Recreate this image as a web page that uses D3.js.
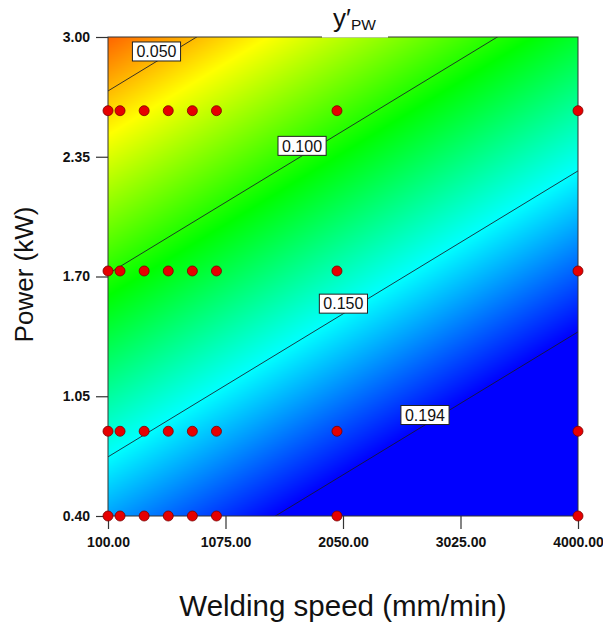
<!DOCTYPE html>
<html>
<head>
<meta charset="utf-8">
<script src="https://cdn.jsdelivr.net/npm/d3@7"></script>
<style>
  html, body { margin: 0; padding: 0; background: #fff; }
  svg { display: block; }
  text { font-family: "Liberation Sans", Arial, sans-serif; fill: #111; }
</style>
</head>
<body>
<script>
// Axis ticks
const speedTicks = [100, 1075, 2050, 3025, 4000];
const powerTicks = [0.40, 1.05, 1.70, 2.35, 3.00];

// Design points (full factorial of run settings)
const runSpeeds = [100, 200, 400, 600, 800, 1000, 2000, 4000];
const runPowers = [0.40, 0.86, 1.73, 2.60];

// Fitted linear model  y'PW = b0 + bS*speed + bP*power
const b0 = 0.1843;
const bS = 2.004e-5;
const bP = -0.05035;

// Contour levels and where along the speed axis each label sits
const contourLevels = [0.050, 0.100, 0.150, 0.194];
const labelSpeeds = [502, 1710, 2053, 2730];

// Colour ramp of the response surface
const rampLevels = [0.018, 0.062, 0.106, 0.150, 0.194];
const rampColours = ["#ff0000", "#ffff00", "#00ff00", "#00ffff", "#0000ff"];

const W = 603, H = 633;
const plotL = 108, plotR = 578, plotT = 37, plotB = 516;

const x = d3.scaleLinear().domain([100, 4000]).range([plotL, plotR]);
const y = d3.scaleLinear().domain([0.40, 3.00]).range([plotB, plotT]);
const colour = d3.scaleLinear().domain(rampLevels).range(rampColours)
  .interpolate(d3.interpolateRgb).clamp(true);

const model = (s, p) => b0 + bS * s + bP * p;
const powerOnLevel = (lvl, s) => (lvl - b0 - bS * s) / bP;

const svg = d3.select("body").append("svg").attr("width", W).attr("height", H);

// Response surface raster
const pw = plotR - plotL, ph = plotB - plotT;
const canvas = document.createElement("canvas");
canvas.width = pw; canvas.height = ph;
const ctx = canvas.getContext("2d");
const img = ctx.createImageData(pw, ph);
for (let j = 0; j < ph; j++) {
  const p = y.invert(plotT + j + 0.5);
  for (let i = 0; i < pw; i++) {
    const s = x.invert(plotL + i + 0.5);
    const c = d3.rgb(colour(model(s, p)));
    const k = (j * pw + i) * 4;
    img.data[k] = c.r; img.data[k + 1] = c.g; img.data[k + 2] = c.b; img.data[k + 3] = 255;
  }
}
ctx.putImageData(img, 0, 0);
svg.append("image")
  .attr("x", plotL).attr("y", plotT).attr("width", pw).attr("height", ph)
  .attr("preserveAspectRatio", "none")
  .attr("href", canvas.toDataURL());

svg.append("clipPath").attr("id", "plot-clip")
  .append("rect").attr("x", plotL).attr("y", plotT).attr("width", pw).attr("height", ph);

// Contour lines
const contourG = svg.append("g").attr("clip-path", "url(#plot-clip)");
contourG.selectAll("line").data(contourLevels).join("line")
  .attr("x1", x(100)).attr("y1", d => y(powerOnLevel(d, 100)))
  .attr("x2", x(4000)).attr("y2", d => y(powerOnLevel(d, 4000)))
  .attr("stroke", "#1a1a2a").attr("stroke-width", 1).attr("stroke-opacity", 0.85);

// Frame
svg.append("rect").attr("x", plotL).attr("y", plotT).attr("width", pw).attr("height", ph)
  .attr("fill", "none").attr("stroke", "#333").attr("stroke-width", 1);

// Axes
const xAxis = d3.axisBottom(x).tickValues(speedTicks).tickFormat(d3.format(".2f"))
  .tickSize(13).tickSizeOuter(0).tickPadding(8);
const yAxis = d3.axisLeft(y).tickValues(powerTicks).tickFormat(d3.format(".2f"))
  .tickSize(12).tickSizeOuter(0).tickPadding(6);

const gx = svg.append("g").attr("transform", `translate(0,${plotB})`).call(xAxis);
const gy = svg.append("g").attr("transform", `translate(${plotL},0)`).call(yAxis);
[gx, gy].forEach(g => {
  g.select(".domain").remove();
  g.selectAll(".tick line").attr("stroke", "#333").attr("stroke-width", 1.2);
  g.selectAll(".tick text").attr("font-size", 14).attr("font-weight", "bold")
    .attr("fill", "#111").attr("font-family", "Liberation Sans, Arial, sans-serif");
});

// Contour labels
const labelG = svg.append("g");
contourLevels.forEach((lvl, i) => {
  const cx = x(labelSpeeds[i]);
  const cy = y(powerOnLevel(lvl, labelSpeeds[i])) - 10;
  const g = labelG.append("g").attr("transform", `translate(${cx},${cy})`);
  const t = g.append("text").text(d3.format(".3f")(lvl))
    .attr("text-anchor", "middle").attr("dy", "0.36em").attr("font-size", 16);
  const bb = t.node().getBBox();
  g.insert("rect", "text")
    .attr("x", bb.x - 4).attr("y", -9.5).attr("width", bb.width + 8).attr("height", 19)
    .attr("fill", "#fff").attr("stroke", "#222").attr("stroke-width", 1);
});

// Design points
const runs = runPowers.flatMap(p => runSpeeds.map(s => ({ s, p })));
svg.append("g").selectAll("circle").data(runs).join("circle")
  .attr("cx", d => x(d.s)).attr("cy", d => y(d.p)).attr("r", 5)
  .attr("fill", "#e60000").attr("stroke", "#7a0000").attr("stroke-width", 0.8);

// Title with a white backing over the frame
svg.append("rect").attr("x", 322).attr("y", 8).attr("width", 66).attr("height", 29.5).attr("fill", "#fff");
const title = svg.append("text").attr("x", 333).attr("y", 26.5).attr("font-size", 26);
title.append("tspan").text("y′");
title.append("tspan").attr("font-size", 15.5).attr("dy", 3).text("PW");

// Axis titles
svg.append("text").attr("x", (plotL + plotR) / 2).attr("y", 616)
  .attr("text-anchor", "middle").attr("font-size", 29.5)
  .text("Welding speed (mm/min)");
svg.append("text").attr("transform", `translate(33,${(plotT + plotB) / 2 - 2}) rotate(-90)`)
  .attr("text-anchor", "middle").attr("font-size", 26)
  .text("Power (kW)");
</script>
</body>
</html>
